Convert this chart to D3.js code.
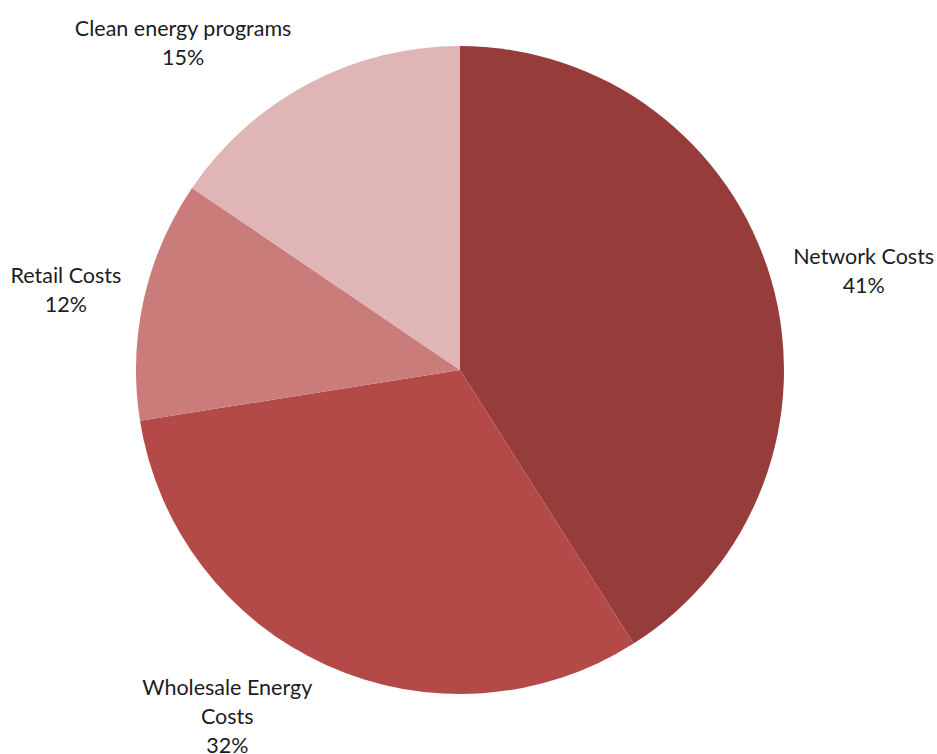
<!DOCTYPE html>
<html>
<head>
<meta charset="utf-8">
<script src="https://cdn.jsdelivr.net/npm/d3@7"></script>
<style>
  body { margin: 0; background: #fff; }
  text { font-family: Lato, "Open Sans", sans-serif; fill: #1c1c24; }
</style>
</head>
<body>
<div id="container"></div>
<script>
const WIDTH = 937;
const HEIGHT = 754;
const CENTER = { X: 460, Y: 370 };
const RADIUS = 324;
const LABEL_RADIUS = 410;

// data (clockwise from 12 o'clock)
const categories = ['Network Costs', 'Wholesale Energy Costs', 'Retail Costs', 'Clean energy programs'];
const shares = [41.0, 31.5, 12.0, 15.5];
const shareLabels = ['41%', '32%', '12%', '15%'];
const labelLines = [['Network Costs'], ['Wholesale Energy', 'Costs'], ['Retail Costs'], ['Clean energy programs']];
const colors = ['#963c3b', '#b34a48', '#c97c7a', '#dfb5b5'];
// small nudges so the labels sit where excel put them
const labelNudge = [[10, 15], [-64, -27], [6, 9], [-85, 35]];

const data = categories.map((c, i) => ({ name: c, value: shares[i], label: shareLabels[i], lines: labelLines[i], i: i }));

const svg = d3.select('#container')
    .append('svg')
    .attr('width', WIDTH)
    .attr('height', HEIGHT);

const g = svg.append('g')
    .attr('transform', `translate(${CENTER.X}, ${CENTER.Y})`);

const pie = d3.pie()
    .sort(null)
    .value(d => d.value);

const arc = d3.arc()
    .innerRadius(0)
    .outerRadius(RADIUS);

const labelArc = d3.arc()
    .innerRadius(LABEL_RADIUS)
    .outerRadius(LABEL_RADIUS);

const arcs = pie(data);

g.selectAll('path')
    .data(arcs)
    .enter()
    .append('path')
      .attr('d', arc)
      .attr('fill', d => colors[d.data.i]);

const LINE = 29;
const labels = g.selectAll('text.lbl')
    .data(arcs)
    .enter()
    .append('text')
      .attr('class', 'lbl')
      .attr('text-anchor', 'middle')
      .attr('font-size', 21.5)
      .attr('transform', d => {
          const c = labelArc.centroid(d);
          const n = labelNudge[d.data.i];
          return `translate(${c[0] + n[0]}, ${c[1] + n[1]})`;
      });

labels.each(function (d) {
    const rows = d.data.lines.concat([d.data.label]);
    const top = -(rows.length - 1) * LINE / 2;
    d3.select(this).selectAll('tspan')
        .data(rows)
        .enter()
        .append('tspan')
          .attr('x', 0)
          .attr('y', (r, k) => top + k * LINE)
          .attr('dy', '0.35em')
          .text(r => r);
});
</script>
</body>
</html>
